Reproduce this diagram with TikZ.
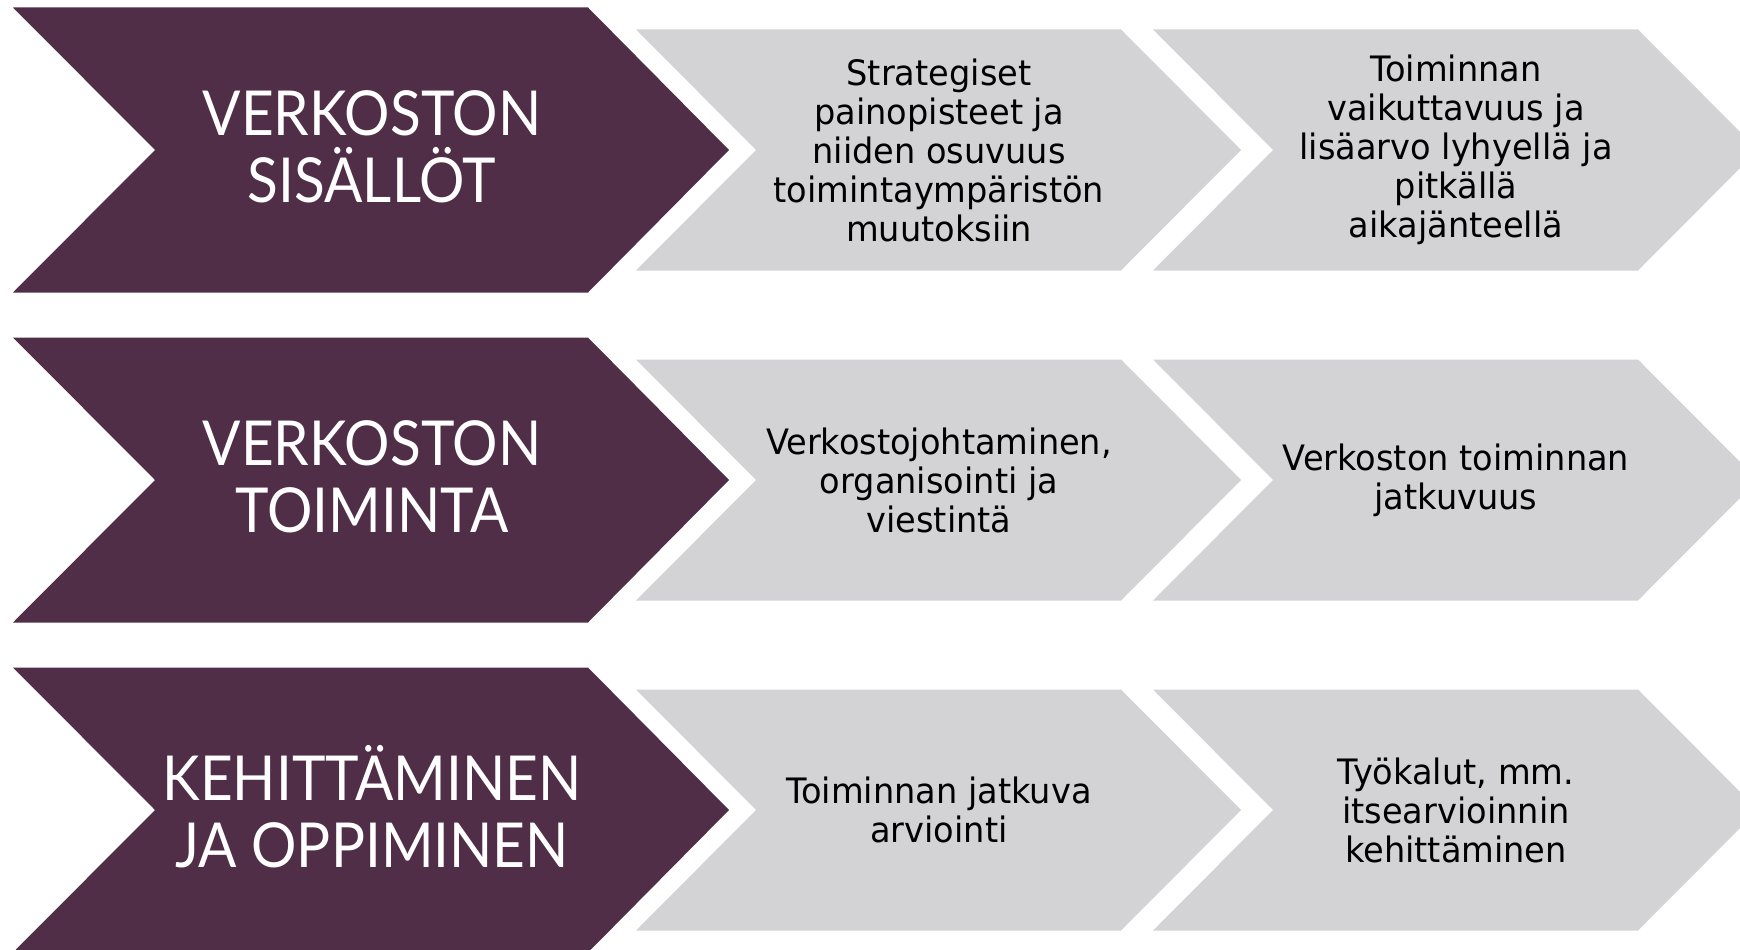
\documentclass[tikz,border=0pt]{standalone}
\usepackage{fontspec}
\setmainfont{DejaVu Sans}
\newfontfamily\headfont[FakeStretch=0.915]{Lato}
\newfontfamily\bodyfont[FakeStretch=0.96]{DejaVu Sans}
\definecolor{plum}{RGB}{81,46,72}
\definecolor{lgrey}{RGB}{211,210,212}
\tikzset{
  headtxt/.style={text=white, align=center, font=\headfont\fontsize{62}{67}\selectfont, inner sep=0pt},
  bodytxt/.style={text=black, align=center, font=\bodyfont\fontsize{35}{39}\selectfont, inner sep=0pt},
}
\newcommand{\bigchev}[1]{%
  \fill[plum] (13,#1-142.5) -- (588,#1-142.5) -- (729,#1) -- (588,#1+142.5) -- (13,#1+142.5) -- (155,#1) -- cycle;}
\newcommand{\smallchev}[2]{%
  \fill[lgrey] (#1,#2-120.5) -- (#1+485,#2-120.5) -- (#1+605,#2) -- (#1+485,#2+120.5) -- (#1,#2+120.5) -- (#1+120,#2) -- cycle;}
\begin{document}
\begin{tikzpicture}[x=1pt,y=-1pt]
\useasboundingbox (0,0) rectangle (1740,950);
\begin{scope}
\clip (0,0) rectangle (1740,950);
\bigchev{150}
\bigchev{480}
\bigchev{810}
\smallchev{636}{150}
\smallchev{1153}{150}
\smallchev{636}{480}
\smallchev{1153}{480}
\smallchev{636}{810}
\smallchev{1153}{810}
\end{scope}
\node[headtxt] (h1) at (372,147) {VERKOSTON\\SISÄLLÖT};
\node[headtxt] (h2) at (372,477) {VERKOSTON\\TOIMINTA};
\node[headtxt] (h3) at (372,807) {KEHITTÄMINEN\\JA OPPIMINEN};
\node[bodytxt] (a1) at (939,150) {Strategiset\\painopisteet ja\\niiden osuvuus\\toimintaympäristön\\muutoksiin};
\node[bodytxt] (b1) at (1456,150) {Toiminnan\\vaikuttavuus ja\\lisäarvo lyhyellä ja\\pitkällä\\aikajänteellä};
\node[bodytxt] (a2) at (939,480) {Verkostojohtaminen,\\organisointi ja\\viestintä};
\node[bodytxt] (b2) at (1456,480) {Verkoston toiminnan\\jatkuvuus};
\node[bodytxt] (a3) at (939,810) {Toiminnan jatkuva\\arviointi};
\node[bodytxt] (b3) at (1456,810) {Työkalut, mm.\\itsearvioinnin\\kehittäminen};
\end{tikzpicture}
\end{document}
